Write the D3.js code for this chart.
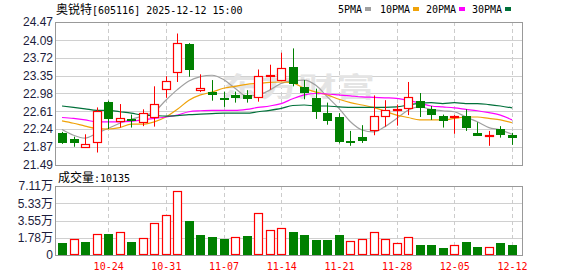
<!DOCTYPE html>
<html>
<head>
<meta charset="utf-8">
<script src="https://cdn.jsdelivr.net/npm/d3@7"></script>
<style>
  body { margin: 0; background: #fff; }
  svg { display: block; }
</style>
</head>
<body>
<script>
// 1: DATA
const dates = [
  "10-20","10-21","10-22","10-23","10-24","10-27","10-28","10-29","10-30","10-31",
  "11-03","11-04","11-05","11-06","11-07","11-10","11-11","11-12","11-13","11-14",
  "11-17","11-18","11-19","11-20","11-21","11-24","11-25","11-26","11-27","11-28",
  "12-01","12-02","12-03","12-04","12-05","12-08","12-09","12-10","12-11","12-12"
];
const openPx  = [22.16,22.04,21.87,21.96,22.81,22.40,22.45,22.39,22.49,23.08,
                 23.42,24.01,23.06,23.01,22.88,22.95,22.94,22.90,23.35,23.27,
                 23.53,23.12,22.88,22.57,22.49,22.00,22.07,22.21,22.52,22.64,
                 22.67,22.82,22.66,22.51,22.51,22.52,22.15,22.11,22.23,22.11];
const highPx  = [22.18,22.08,22.13,22.69,22.83,22.76,22.54,22.65,23.13,23.34,
                 24.23,24.03,23.38,23.26,23.02,23.02,23.05,23.48,23.58,23.83,
                 23.92,23.26,23.08,22.79,22.57,22.20,22.32,22.94,22.84,22.75,
                 23.22,22.99,22.72,22.54,22.53,22.65,22.38,22.20,22.30,22.16];
const lowPx   = [21.93,21.87,21.87,21.75,22.24,22.27,22.27,22.30,22.29,22.89,
                 23.22,23.33,23.01,22.83,22.70,22.79,22.79,22.81,23.06,23.27,
                 23.13,22.86,22.45,22.33,21.94,21.89,21.95,22.11,22.29,22.31,
                 22.53,22.49,22.43,22.27,22.14,22.20,22.10,21.89,22.06,21.91];
const closePx = [21.94,21.95,21.93,22.62,22.44,22.46,22.40,22.57,22.77,23.25,
                 24.04,23.48,23.09,22.94,22.84,22.89,22.87,23.35,23.37,23.52,
                 23.17,22.99,22.60,22.41,21.96,21.98,22.00,22.52,22.63,22.66,
                 22.90,22.67,22.54,22.40,22.52,22.27,22.10,22.12,22.11,22.05];
const prevClose = 22.02;

// volume in 万
const volume = [1.27,1.65,1.37,2.16,2.20,2.37,1.37,1.72,3.30,4.09,
                6.60,3.50,2.06,1.86,1.65,1.82,1.96,4.33,2.55,2.75,
                2.37,2.06,1.55,1.55,2.06,1.44,1.62,2.37,1.62,1.24,
                1.82,1.03,1.03,0.72,1.00,1.34,0.82,0.79,1.24,1.0135];

const ma5  = [22.23,22.11,22.05,22.15,22.25,22.36,22.44,22.51,22.60,22.84,
              23.06,23.24,23.33,23.36,23.27,23.09,22.93,22.95,23.05,23.19,
              23.25,23.26,23.15,22.91,22.67,22.39,22.22,22.18,22.29,22.46,
              22.63,22.70,22.65,22.62,22.60,22.49,22.39,22.27,22.22,22.13];
const ma10 = [22.41,22.36,22.30,22.25,22.24,22.27,22.34,22.34,22.39,22.49,
              22.65,22.84,22.95,23.01,23.09,23.13,23.17,23.19,23.21,23.22,
              23.20,23.09,23.01,22.95,22.86,22.79,22.74,22.69,22.61,22.53,
              22.48,22.43,22.43,22.43,22.46,22.49,22.49,22.46,22.43,22.37];
const ma20 = [22.48,22.46,22.43,22.39,22.39,22.39,22.40,22.43,22.46,22.49,
              22.53,22.60,22.62,22.63,22.63,22.63,22.65,22.69,22.72,22.77,
              22.87,22.95,22.98,22.97,22.95,22.93,22.91,22.90,22.89,22.88,
              22.84,22.78,22.72,22.70,22.68,22.65,22.62,22.58,22.53,22.43];
const ma30 = [22.72,22.69,22.66,22.63,22.63,22.60,22.57,22.53,22.52,22.51,
              22.52,22.54,22.55,22.56,22.57,22.57,22.57,22.60,22.63,22.67,
              22.73,22.74,22.72,22.72,22.70,22.69,22.69,22.69,22.69,22.70,
              22.74,22.78,22.79,22.77,22.79,22.77,22.77,22.75,22.72,22.68];

const priceTicks = [21.49,21.87,22.24,22.61,22.98,23.35,23.72,24.09,24.47];
const volTicks = [0,1.78,3.55,5.33,7.11];
const dateTicks = dates.filter((d, i) => i % 5 === 4);

const maSeries = [
  { name: "5PMA",  values: ma5,  color: "#a0a0a0" },
  { name: "10PMA", values: ma10, color: "#f0a30a" },
  { name: "20PMA", values: ma20, color: "#ff00ff" },
  { name: "30PMA", values: ma30, color: "#00703a" }
];

// 2: LAYOUT
const W = 578, H = 276;
const left = 55, right = 522;
const priceTop = 22, priceBottom = 165;
const volTop = 186, volBottom = 255;
const RED = "#ff0000", GREEN = "#008000";
const monoFont = "'DejaVu Sans Mono', 'Liberation Mono', monospace";
const cjkFont = "'Noto Sans CJK SC', sans-serif";

const svg = d3.select("body").append("svg")
  .attr("width", W)
  .attr("height", H);

const x = d3.scalePoint().domain(dates).range([62, 512]);
const yPrice = d3.scaleLinear().domain([21.49, 24.47]).range([priceBottom, priceTop]);
const yVol = d3.scaleLinear().domain([0, 7.11]).range([volBottom, volTop]);

// 3: GRID
function grid(yScale, ticks, top, bottom) {
  const g = svg.append("g");
  g.selectAll(".hgrid")
    .data(ticks)
    .enter()
    .append("line")
    .attr("x1", left).attr("x2", right)
    .attr("y1", d => Math.round(yScale(d)) + 0.5)
    .attr("y2", d => Math.round(yScale(d)) + 0.5)
    .attr("stroke", "#d0d0d0");
  g.selectAll(".vgrid")
    .data(dateTicks)
    .enter()
    .append("line")
    .attr("x1", d => Math.round(x(d)) + 0.5)
    .attr("x2", d => Math.round(x(d)) + 0.5)
    .attr("y1", top).attr("y2", bottom)
    .attr("stroke", "#cccccc")
    .attr("stroke-dasharray", "4,3");
}
grid(yPrice, priceTicks, priceTop, priceBottom);
grid(yVol, volTicks, volTop, volBottom);

// watermark (stretched wide, light)
svg.append("text")
  .attr("x", 221).attr("y", 97)
  .attr("font-family", cjkFont)
  .attr("font-size", 27)
  .attr("font-weight", "bold")
  .attr("textLength", 154)
  .attr("lengthAdjust", "spacingAndGlyphs")
  .attr("fill", "#e4e4e4")
  .text("东方财富");

// 4: MOVING AVERAGES
const line = d3.line()
  .x((d, i) => x(dates[i]))
  .y(d => yPrice(d))
  .curve(d3.curveMonotoneX);

svg.selectAll(".ma")
  .data(maSeries)
  .enter()
  .append("path")
  .attr("fill", "none")
  .attr("stroke", d => d.color)
  .attr("stroke-width", 1.2)
  .attr("d", d => line(d.values));

// 5: CANDLES
const candles = dates.map((d, i) => ({
  date: d, o: openPx[i], h: highPx[i], l: lowPx[i], c: closePx[i]
}));

const cg = svg.append("g");
candles.forEach(d => {
  const cx = Math.round(x(d.date));
  const up = d.c >= d.o;
  const col = up ? RED : GREEN;
  const yTop = Math.round(yPrice(Math.max(d.o, d.c)));
  const yBot = Math.round(yPrice(Math.min(d.o, d.c)));
  // wick
  cg.append("line")
    .attr("x1", cx + 0.5).attr("x2", cx + 0.5)
    .attr("y1", yPrice(d.h)).attr("y2", yPrice(d.l))
    .attr("stroke", col);
  if (up) {
    cg.append("rect")
      .attr("x", cx - 3.5).attr("y", yTop + 0.5)
      .attr("width", 8).attr("height", Math.max(yBot - yTop, 1))
      .attr("fill", "#fff")
      .attr("stroke", col)
      .attr("stroke-width", 1.2);
  } else {
    cg.append("rect")
      .attr("x", cx - 4).attr("y", yTop)
      .attr("width", 9).attr("height", Math.max(yBot - yTop, 2))
      .attr("fill", col);
  }
});

// 6: VOLUME BARS
svg.append("g").selectAll("rect")
  .data(volume)
  .enter()
  .append("rect")
  .each(function (v, i) {
    const prev = i === 0 ? prevClose : closePx[i - 1];
    const up = closePx[i] > prev;
    const cx = Math.round(x(dates[i]));
    const top = Math.round(yVol(v));
    const r = d3.select(this);
    if (up) {
      r.attr("x", cx - 3.5).attr("y", top + 0.5)
        .attr("width", 8).attr("height", volBottom - top - 1)
        .attr("fill", "#fff").attr("stroke", RED).attr("stroke-width", 1.2);
    } else {
      r.attr("x", cx - 4).attr("y", top)
        .attr("width", 9).attr("height", volBottom - top)
        .attr("fill", GREEN);
    }
  });

// 7: FRAMES
[[priceTop, priceBottom], [volTop, volBottom]].forEach(([t, b]) => {
  svg.append("rect")
    .attr("x", left + 0.5).attr("y", t + 0.5)
    .attr("width", right - left).attr("height", b - t)
    .attr("fill", "none")
    .attr("stroke", "#999");
});

// 8: AXES
const yAxisPrice = d3.axisLeft(yPrice)
  .tickValues(priceTicks)
  .tickSize(0)
  .tickPadding(2)
  .tickFormat(d3.format(".2f"));
const gp = svg.append("g")
  .attr("transform", `translate(${left},0)`)
  .call(yAxisPrice);

const yAxisVol = d3.axisLeft(yVol)
  .tickValues(volTicks)
  .tickSize(0)
  .tickPadding(2)
  .tickFormat(d => d === 0 ? "0" : d3.format(".2f")(d) + "万");
const gv = svg.append("g")
  .attr("transform", `translate(${left},0)`)
  .call(yAxisVol);

[gp, gv].forEach(g => {
  g.select(".domain").remove();
  g.selectAll("text")
    .attr("font-family", "'Liberation Sans', Arial, 'Noto Sans CJK SC', sans-serif")
    .attr("font-size", 12)
    .attr("fill", "#1c1c3c");
});

const xAxis = d3.axisBottom(x)
  .tickValues(dateTicks)
  .tickSize(0)
  .tickPadding(8);
const gx = svg.append("g")
  .attr("transform", `translate(0,${volBottom})`)
  .call(xAxis);
gx.select(".domain").remove();
gx.selectAll("text")
  .attr("font-family", monoFont)
  .attr("font-size", 10)
  .attr("fill", RED);

// 9: TITLE, LEGEND, VOLUME LABEL
const title = svg.append("text")
  .attr("x", 56).attr("y", 14)
  .attr("fill", "#000");
title.append("tspan").attr("font-family", cjkFont).attr("font-size", 12).text("奥锐特");
title.append("tspan").attr("font-family", monoFont).attr("font-size", 10)
  .text("[605116] 2025-12-12 15:00");

const legendX = [338, 380, 426, 472];
const legend = svg.selectAll(".legend")
  .data(maSeries)
  .enter()
  .append("g")
  .attr("transform", (d, i) => `translate(${legendX[i]},0)`);
legend.append("text")
  .attr("y", 13)
  .attr("font-family", monoFont)
  .attr("font-size", 10)
  .attr("fill", "#000")
  .text(d => d.name);
legend.append("rect")
  .attr("x", d => d.name.length * 6 + 3)
  .attr("y", 7)
  .attr("width", 6)
  .attr("height", 4)
  .attr("fill", d => d.color);

const vl = svg.append("text")
  .attr("x", 58).attr("y", 182)
  .attr("fill", "#000");
vl.append("tspan").attr("font-family", cjkFont).attr("font-size", 12).text("成交量");
vl.append("tspan").attr("font-family", monoFont).attr("font-size", 10)
  .text(":" + d3.format("d")(volume[volume.length - 1] * 10000));
</script>
</body>
</html>
